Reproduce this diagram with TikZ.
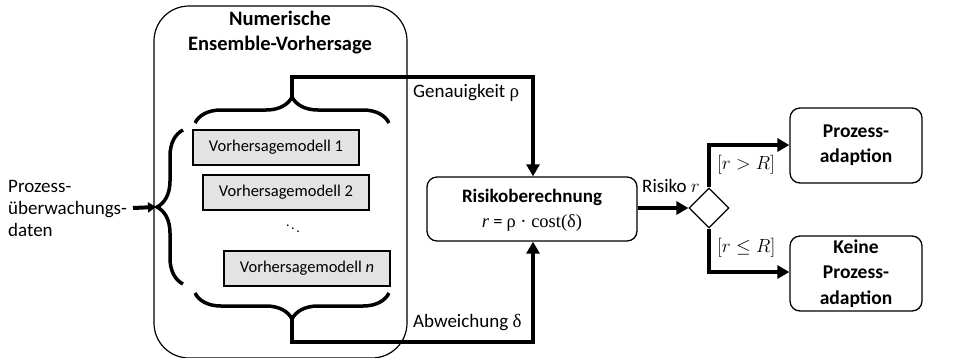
\RequirePackage{fix-cm}
\documentclass[tikz,border=0pt]{standalone}
\usepackage[no-math]{fontspec}
\setmainfont{Carlito}
\newfontfamily\tnr{Liberation Serif}
\usetikzlibrary{arrows.meta,shapes.geometric,decorations.pathreplacing}
\begin{document}
\begin{tikzpicture}[x=1pt,y=-1pt,
  every node/.style={font=\fontsize{19}{22}\selectfont},
  conn/.style={line width=4pt,-{Triangle[length=12pt,width=13pt]}},
  gbox/.style={draw,line width=1.3pt,fill=gray!22,minimum width=166pt,minimum height=35pt,inner sep=0pt,font=\fontsize{16.5}{20}\selectfont},
  rbox/.style={draw,line width=1.3pt,rounded corners=10pt,inner sep=0pt},
  bracedeco/.style={decorate,decoration={brace,amplitude=26pt},line width=3.5pt},
  lbl/.style={inner sep=0pt,anchor=west}]
\useasboundingbox (0,0) rectangle (957,357);
% big ensemble box
\node[draw,line width=1.2pt,rounded corners=35pt,minimum width=253pt,minimum height=352pt,inner sep=0pt] (ens) at (280.5,182) {};
\node[align=center,font=\fontsize{20.5}{25}\selectfont\bfseries] (title) at (280,33) {Numerische\\Ensemble-Vorhersage};
% models
\node[gbox] (m1) at (276,147.5) {Vorhersagemodell 1};
\node[gbox] (m2) at (286,192.5) {Vorhersagemodell 2};
\node[inner sep=0pt,font=\fontsize{14}{16}\selectfont] (dots) at (293,226) {$\ddots$};
\node[gbox] (mn) at (307,268.5) {Vorhersagemodell \textit{n}};
% braces
\coordinate (tbL) at (195,123); \coordinate (tbR) at (389,123);
\coordinate (bbL) at (195,293); \coordinate (bbR) at (389,293);
\coordinate (lbT) at (183,130); \coordinate (lbB) at (183,284);
\draw[bracedeco] (tbL) -- (tbR);
\draw[bracedeco] (bbR) -- (bbL);
\draw[bracedeco] (lbB) -- (lbT);
\coordinate (ttip) at (292,97);
\coordinate (btip) at (292,319);
\coordinate (ltip) at (156,207);
% input
\node[align=left,anchor=west,inner sep=0pt] (input) at (8,208) {Prozess-\\überwachungs-\\daten};
\coordinate (inS) at (133,208);
\draw[line width=4pt,-{Triangle[length=8pt,width=10pt]}] (inS) -- (ltip);
% risk box
\node[rbox,minimum width=210pt,minimum height=64pt] (risk) at (532,209) {};
\node[font=\fontsize{19}{22}\selectfont\bfseries,inner sep=0pt] (risktitle) at (532,197) {Risikoberechnung};
\node[inner sep=0pt,font=\fontsize{18.5}{22}\selectfont] (riskform) at (532,223) {{\tnr\itshape r} = {\tnr ρ · cost(δ)}};
% connectors from braces
\coordinate (tc) at (292,77); \coordinate (tc2) at (533,77);
\draw[conn] (ttip) -- (tc) -- (tc2) -- (tc2 |- risk.north);
\coordinate (bc) at (292,342); \coordinate (bc2) at (533,342);
\draw[conn] (btip) -- (bc) -- (bc2) -- (bc2 |- risk.south);
\node[lbl] (lacc) at (413,93) {Genauigkeit {\tnr ρ}};
\node[lbl] (ldev) at (413,322) {Abweichung {\tnr δ}};
% diamond
\node[draw,diamond,line width=1.2pt,minimum width=40pt,minimum height=40pt,inner sep=0pt,aspect=1] (dec) at (709,208) {};
\draw[conn] (risk.east |- dec) -- (dec.west);
\node[lbl] (lrisk) at (642,186) {Risiko $r$};
% outcome boxes
\node[rbox,minimum width=132pt,minimum height=75pt,align=center,font=\fontsize{19.5}{25}\selectfont\bfseries] (pa) at (856,145.5) {Prozess-\\adaption};
\node[rbox,minimum width=132pt,minimum height=75pt,align=center,font=\fontsize{19.5}{25.5}\selectfont\bfseries] (kpa) at (856,273.5) {Keine\\Prozess-\\adaption};
\coordinate (up) at (709,145); \coordinate (dn) at (709,272);
\draw[conn] (dec.north) -- (up) -- (pa.west |- up);
\draw[conn] (dec.south) -- (dn) -- (kpa.west |- dn);
\node[lbl] (lgt) at (717,165) {$[r > R]$};
\node[lbl] (lle) at (717,248) {$[r \leq R]$};
\end{tikzpicture}
\end{document}
